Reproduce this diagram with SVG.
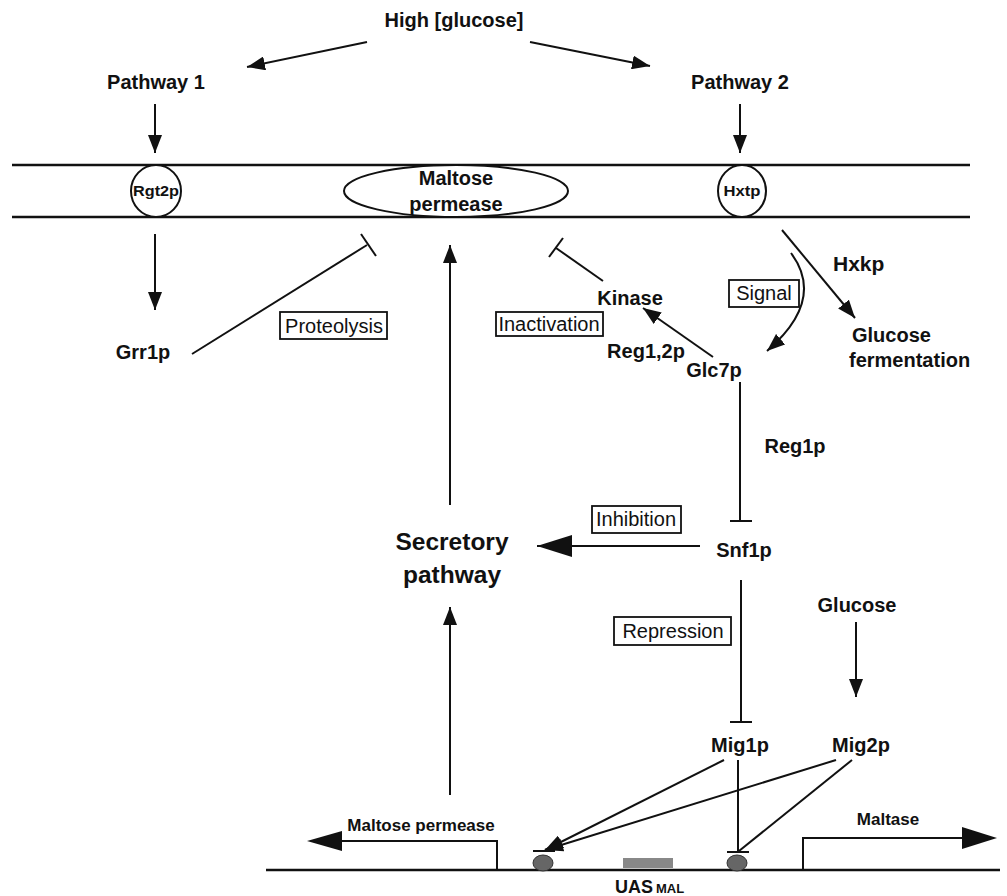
<svg xmlns="http://www.w3.org/2000/svg" width="1007" height="896" viewBox="0 0 1007 896">
<style>
text{font-family:"Liberation Sans",Arial,sans-serif;fill:#111}
.b{font-weight:bold;font-size:20px}
.r{font-size:20px}
.ln{stroke:#111;stroke-width:2;fill:none}
.box{fill:#fff;stroke:#111;stroke-width:1.8}
</style>
<defs>
<marker id="ah" markerUnits="userSpaceOnUse" markerWidth="20" markerHeight="14" refX="18" refY="7" orient="auto">
<path d="M0,0 L18,7 L0,14 Z" fill="#111"/>
</marker>
<marker id="big" markerUnits="userSpaceOnUse" markerWidth="36" markerHeight="22" refX="35" refY="11" orient="auto">
<path d="M0,0 L35,11 L0,22 Z" fill="#111"/>
</marker>
</defs>
<rect width="1007" height="896" fill="#fff"/>

<g id="connectors">
<line class="ln" x1="367" y1="42" x2="247" y2="67" marker-end="url(#ah)"/>
<line class="ln" x1="530" y1="42" x2="650" y2="66" marker-end="url(#ah)"/>
<line class="ln" x1="155" y1="104" x2="155" y2="153" marker-end="url(#ah)"/>
<line class="ln" x1="740" y1="104" x2="740" y2="153" marker-end="url(#ah)"/>
<line class="ln" x1="155" y1="234" x2="155" y2="310" marker-end="url(#ah)"/>
<line class="ln" x1="192" y1="354" x2="367" y2="245"/>
<line class="ln" x1="361" y1="234" x2="376" y2="256"/>
<line class="ln" x1="450" y1="505" x2="450" y2="245" marker-end="url(#ah)"/>
<line class="ln" x1="603" y1="281" x2="556" y2="248"/>
<line class="ln" x1="549" y1="257" x2="563" y2="238"/>
<line class="ln" x1="713" y1="357" x2="643" y2="308" marker-end="url(#ah)"/>
<path class="ln" d="M791 253 Q826 300 767 351" marker-end="url(#ah)"/>
<line class="ln" x1="782" y1="230" x2="855" y2="318" marker-end="url(#ah)"/>
<line class="ln" x1="740" y1="382" x2="740" y2="521"/>
<line class="ln" x1="730" y1="521" x2="752" y2="521"/>
<line class="ln" x1="700" y1="546" x2="537" y2="546" marker-end="url(#big)"/>
<line class="ln" x1="741" y1="580" x2="741" y2="722"/>
<line class="ln" x1="730" y1="722" x2="752" y2="722"/>
<line class="ln" x1="856" y1="622" x2="856" y2="697" marker-end="url(#ah)"/>
<line class="ln" x1="724" y1="760" x2="545" y2="850" marker-end="url(#ah)"/>
<line class="ln" x1="836" y1="760" x2="545" y2="850" marker-end="url(#ah)"/>
<line class="ln" x1="738" y1="760" x2="738" y2="852"/>
<line class="ln" x1="852" y1="760" x2="739" y2="851"/>
<line class="ln" x1="533" y1="851" x2="555" y2="851"/>
<line class="ln" x1="727" y1="852" x2="749" y2="852"/>
<line class="ln" x1="450" y1="795" x2="450" y2="607" marker-end="url(#ah)"/>
<polyline class="ln" points="497,870 497,841 340,841"/>
<path d="M342,831 L307,841 L342,851 Z" fill="#111"/>
<polyline class="ln" points="803,870 803,838 965,838"/>
<path d="M962,827 L997,838 L962,849 Z" fill="#111"/>
</g>

<g id="membrane">
<line x1="12" y1="165" x2="970" y2="165" stroke="#111" stroke-width="2.5"/>
<line x1="12" y1="217" x2="970" y2="217" stroke="#111" stroke-width="2.5"/>
</g>

<g id="dna">
<line x1="266" y1="870" x2="1000" y2="870" stroke="#111" stroke-width="2.5"/>
<ellipse cx="543" cy="863" rx="10" ry="8" fill="#666" stroke="#333" stroke-width="1"/>
<ellipse cx="737" cy="863" rx="10" ry="8" fill="#666" stroke="#333" stroke-width="1"/>
<rect x="623" y="858" width="50" height="10" fill="#888"/>
<text x="615" y="893" font-weight="bold" font-size="18">UAS<tspan font-size="13" dx="3">MAL</tspan></text>
</g>

<g id="n-high"><text x="454" y="27" text-anchor="middle" class="b">High [glucose]</text></g>
<g id="n-pathway1"><text x="156" y="89" text-anchor="middle" class="b">Pathway 1</text></g>
<g id="n-pathway2"><text x="740" y="89" text-anchor="middle" class="b">Pathway 2</text></g>
<g id="n-rgt2p">
<ellipse cx="156" cy="191" rx="25" ry="26" fill="#fff" stroke="#111" stroke-width="2"/>
<text x="156" y="196" text-anchor="middle" font-size="15" font-weight="bold" textLength="46" lengthAdjust="spacingAndGlyphs">Rgt2p</text>
</g>
<g id="n-maltose-permease">
<ellipse cx="456" cy="191" rx="112" ry="26" fill="#fff" stroke="#111" stroke-width="2"/>
<text x="456" y="185" text-anchor="middle" class="b">Maltose</text>
<text x="456" y="211" text-anchor="middle" class="b">permease</text>
</g>
<g id="n-hxtp">
<ellipse cx="742" cy="191" rx="24" ry="26" fill="#fff" stroke="#111" stroke-width="2"/>
<text x="742" y="196" text-anchor="middle" font-size="15" font-weight="bold" textLength="37" lengthAdjust="spacingAndGlyphs">Hxtp</text>
</g>
<g id="n-grr1p"><text x="143" y="359" text-anchor="middle" class="b">Grr1p</text></g>
<g id="n-proteolysis"><rect class="box" x="280" y="312" width="107" height="27"/><text x="334" y="333" text-anchor="middle" class="r">Proteolysis</text></g>
<g id="n-inactivation"><rect class="box" x="496" y="312" width="107" height="24"/><text x="549" y="331" text-anchor="middle" class="r">Inactivation</text></g>
<g id="n-kinase"><text x="630" y="305" text-anchor="middle" class="b">Kinase</text></g>
<g id="n-signal"><rect class="box" x="729" y="280" width="70" height="27"/><text x="764" y="300" text-anchor="middle" class="r">Signal</text></g>
<g id="n-hxkp"><text x="833" y="271" class="b" style="font-size:21px">Hxkp</text></g>
<g id="n-glucose-fermentation"><text x="852" y="342" class="b">Glucose</text><text x="849" y="367" class="b">fermentation</text></g>
<g id="n-reg12p"><text x="646" y="358" text-anchor="middle" class="b">Reg1,2p</text></g>
<g id="n-glc7p"><text x="714" y="377" text-anchor="middle" class="b">Glc7p</text></g>
<g id="n-reg1p"><text x="795" y="453" text-anchor="middle" class="b">Reg1p</text></g>
<g id="n-inhibition"><rect class="box" x="592" y="506" width="89" height="27"/><text x="636" y="526" text-anchor="middle" class="r">Inhibition</text></g>
<g id="n-secretory"><text x="452" y="550" text-anchor="middle" class="b" style="font-size:24.5px">Secretory</text><text x="452" y="583" text-anchor="middle" class="b" style="font-size:24.5px">pathway</text></g>
<g id="n-snf1p"><text x="744" y="557" text-anchor="middle" class="b">Snf1p</text></g>
<g id="n-repression"><rect class="box" x="614" y="617" width="117" height="28"/><text x="673" y="638" text-anchor="middle" class="r">Repression</text></g>
<g id="n-glucose"><text x="857" y="612" text-anchor="middle" class="b">Glucose</text></g>
<g id="n-mig1p"><text x="740" y="752" text-anchor="middle" class="b">Mig1p</text></g>
<g id="n-mig2p"><text x="861" y="752" text-anchor="middle" class="b">Mig2p</text></g>
<g id="n-maltose-permease-gene"><text x="421" y="831" text-anchor="middle" class="b" style="font-size:17px">Maltose permease</text></g>
<g id="n-maltase"><text x="888" y="825" text-anchor="middle" class="b" style="font-size:17px">Maltase</text></g>
</svg>
